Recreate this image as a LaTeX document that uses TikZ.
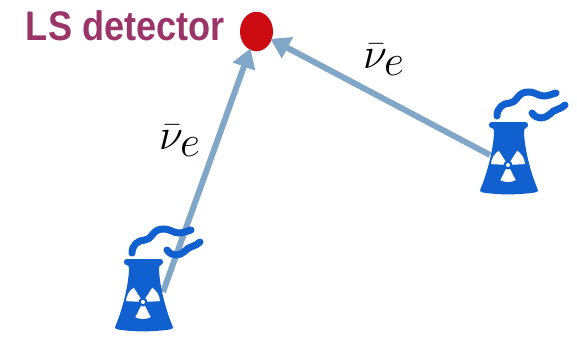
\documentclass[tikz,border=0pt]{standalone}
\usepackage{fontspec}
\usepackage{amsmath}
\usepackage{xcolor}
\usetikzlibrary{arrows.meta,shapes.geometric}
\newfontfamily\labelfont{Liberation Sans}
\definecolor{plantblue}{HTML}{1160CF}
\definecolor{beamblue}{HTML}{80A6C8}
\definecolor{detred}{HTML}{CC0A12}
\definecolor{labelpurple}{HTML}{9B3468}
\tikzset{
  beam/.style={draw=beamblue,line width=3.4pt,-{Triangle[width=13pt,length=11pt]},shorten >=-1pt},
  smoke/.style={draw=plantblue,line width=4pt,line cap=round,line join=round},
  flavour/.style={font=\fontsize{33}{33}\selectfont,inner sep=0pt},
  plant/.pic={
    % Tower
    \fill[plantblue,rounded corners=1.5] (-19,-44) -- (20,-44) -- (20,-38) -- (16,-38)
      .. controls (16,-20) and (22,5) .. (30,24) -- (30,26)
      .. controls (10,29) and (-10,29) .. (-28,26) -- (-28,24)
      .. controls (-20,5) and (-14,-20) .. (-14,-38) -- (-19,-38) -- cycle;
    % Radiation sign
    \fill[white] (0,-1) circle (2);
    \foreach \a in {90,210,330}
      \fill[white,shift={(0,-1)}] (\a-27:4.5) arc (\a-27:\a+27:4.5) -- (\a+27:17) arc (\a+27:\a-27:17) -- cycle;
    % Smoke
    \draw[smoke] (-11,-50) .. controls (-11,-58) and (-5,-63) .. (2,-63)
      .. controls (9,-63) and (9,-74) .. (20,-74)
      .. controls (28,-74) and (30,-70) .. (36,-70) .. controls (40,-70) and (44,-72) .. (48,-73);
    \draw[smoke] (24,-53) .. controls (29,-46) and (37,-47) .. (42,-52)
      .. controls (46,-57) and (52,-56) .. (57,-61);
  }
}
\begin{document}
\begin{tikzpicture}[x=0.02cm,y=-0.02cm]
\useasboundingbox (0,0) rectangle (577,339);

% Detector
\node[fill=detred,ellipse,minimum width=0.66cm,minimum height=0.79cm,inner sep=0pt] (detector) at (256.5,31.5) {};
\node[anchor=east,text=labelpurple,inner sep=0pt,xscale=0.875,font=\labelfont\bfseries\fontsize{23.5}{23.5}\selectfont] (detlabel) at (225,26) {LS detector};

% Reactors
\coordinate (reactorA) at (163,292);
\coordinate (reactorB) at (490,155);

% Beams
\draw[beam] (reactorA) -- (detector);
\draw[beam] (reactorB) -- (detector);

\pic at (143,303) {plant};
\pic at (508,166) {plant};

% Labels
\node[flavour] (nuA) at (180,141) {$\bar{\nu}_e$};
\node[flavour] (nuB) at (384,60) {$\bar{\nu}_e$};

\end{tikzpicture}
\end{document}
